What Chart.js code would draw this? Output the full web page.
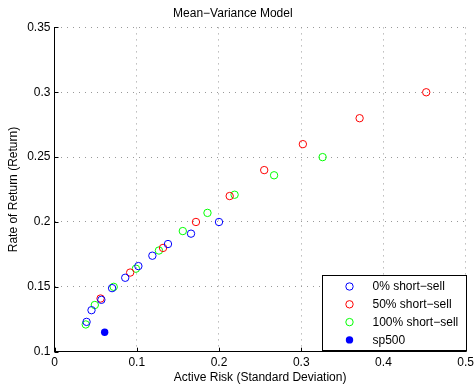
<!DOCTYPE html>
<html>
<head>
<meta charset="utf-8">
<script src="https://cdn.jsdelivr.net/npm/chart.js@4"></script>
<style>
  html, body { margin: 0; padding: 0; background: #fff; }
  #wrap { width: 474px; height: 391px; }
</style>
</head>
<body>
<div id="wrap"><canvas id="chart"></canvas></div>
<script>
// values
const shortSell0 = [
  [0.039, 0.123], [0.045, 0.132], [0.057, 0.140], [0.070, 0.149], [0.086, 0.157],
  [0.102, 0.166], [0.119, 0.174], [0.138, 0.183], [0.166, 0.191], [0.200, 0.200]
];
const shortSell50 = [
  [0.056, 0.141], [0.092, 0.161], [0.132, 0.180], [0.172, 0.200], [0.213, 0.220],
  [0.255, 0.240], [0.302, 0.260], [0.371, 0.280], [0.452, 0.300]
];
const shortSell100 = [
  [0.038, 0.121], [0.049, 0.136], [0.072, 0.150], [0.099, 0.164], [0.127, 0.178],
  [0.156, 0.193], [0.186, 0.207], [0.219, 0.221], [0.267, 0.236], [0.326, 0.250]
];
const sp500 = [[0.061, 0.115]];

const seriesLabels = ['0% short\u2212sell', '50% short\u2212sell', '100% short\u2212sell', 'sp500'];
const xTicks = [0, 0.1, 0.2, 0.3, 0.4, 0.5];
const yTicks = [0.1, 0.15, 0.2, 0.25, 0.3, 0.35];

const FONT = 'Liberation Sans, Arial, Helvetica, sans-serif';

function toPts(arr) {
  return arr.map(p => ({ x: p[0], y: p[1] }));
}

function ring(label, data, color) {
  return {
    label: label,
    data: toPts(data),
    pointStyle: 'circle',
    pointRadius: 3.7,
    pointBorderWidth: 1,
    borderColor: color,
    backgroundColor: 'rgba(0,0,0,0)',
    pointBackgroundColor: 'rgba(0,0,0,0)'
  };
}

// inward tick marks, matlab style
const innerTicks = {
  id: 'innerTicks',
  afterDraw(chart) {
    const { ctx, chartArea, scales } = chart;
    ctx.save();
    ctx.strokeStyle = '#000';
    ctx.lineWidth = 1;
    ctx.beginPath();
    xTicks.forEach(v => {
      const x = Math.round(scales.x.getPixelForValue(v)) + 0.5;
      ctx.moveTo(x, chartArea.bottom);
      ctx.lineTo(x, chartArea.bottom - 4);
    });
    yTicks.forEach(v => {
      const y = Math.round(scales.y.getPixelForValue(v)) + 0.5;
      ctx.moveTo(chartArea.left, y);
      ctx.lineTo(chartArea.left + 4, y);
    });
    ctx.stroke();
    ctx.restore();
  }
};

// legend box in the lower right corner of the plot
const boxLegend = {
  id: 'boxLegend',
  afterDraw(chart) {
    const { ctx, chartArea } = chart;
    const w = 144, h = 75;
    const x0 = Math.round(chartArea.right - w) + 0.5;
    const y0 = Math.round(chartArea.bottom - 2 - h) + 0.5;
    ctx.save();
    ctx.fillStyle = '#fff';
    ctx.fillRect(x0, y0, w, h);
    ctx.strokeStyle = '#000';
    ctx.lineWidth = 1;
    ctx.strokeRect(x0, y0, w, h);
    ctx.font = '12px ' + FONT;
    ctx.textBaseline = 'middle';
    ctx.textAlign = 'left';
    chart.data.datasets.forEach((ds, i) => {
      const cy = y0 + 11 + i * 17.8;
      const mx = x0 + 27;
      ctx.beginPath();
      ctx.arc(mx, cy, 3.7, 0, Math.PI * 2);
      if (ds.pointBackgroundColor !== 'rgba(0,0,0,0)') {
        ctx.fillStyle = ds.pointBackgroundColor;
        ctx.fill();
      } else {
        ctx.strokeStyle = ds.borderColor;
        ctx.stroke();
      }
      ctx.fillStyle = '#000';
      ctx.fillText(ds.label, x0 + 50, cy + 0.5);
    });
    ctx.restore();
  }
};

const gridStyle = { color: '#999', lineWidth: 1, drawTicks: false };

new Chart(document.getElementById('chart'), {
  type: 'scatter',
  data: {
    datasets: [
      ring(seriesLabels[0], shortSell0, '#0000ff'),
      ring(seriesLabels[1], shortSell50, '#ff0000'),
      ring(seriesLabels[2], shortSell100, '#00ff00'),
      {
        label: seriesLabels[3],
        data: toPts(sp500),
        pointStyle: 'circle',
        pointRadius: 3.7,
        pointBorderWidth: 0,
        borderColor: '#0000ff',
        backgroundColor: '#0000ff',
        pointBackgroundColor: '#0000ff'
      }
    ]
  },
  options: {
    responsive: true,
    maintainAspectRatio: false,
    animation: false,
    layout: { padding: { left: 0, right: 8.3, top: 0, bottom: 0 } },
    plugins: {
      legend: { display: false },
      tooltip: { enabled: false },
      title: {
        display: true,
        text: 'Mean\u2212Variance Model',
        color: '#000',
        font: { family: FONT, size: 12, weight: 'normal' },
        padding: { top: 6, bottom: 7 }
      }
    },
    scales: {
      x: {
        type: 'linear',
        min: 0, max: 0.5,
        afterFit: s => { s.height = 39.3; s.paddingLeft = 0; s.paddingRight = 0; },
        afterBuildTicks: s => { s.ticks = xTicks.map(v => ({ value: v })); },
        grid: gridStyle,
        border: { display: true, color: '#000', width: 1, dash: [1, 5] },
        ticks: {
          color: '#000',
          padding: 4,
          maxRotation: 0,
          font: { family: FONT, size: 12 },
          callback: v => String(+v.toFixed(2))
        },
        title: {
          display: true,
          text: 'Active Risk (Standard Deviation)',
          color: '#000',
          font: { family: FONT, size: 12 },
          padding: 6
        }
      },
      y: {
        type: 'linear',
        min: 0.1, max: 0.35,
        afterFit: s => { s.width = 54.5; s.paddingTop = 0; s.paddingBottom = 0; },
        afterBuildTicks: s => { s.ticks = yTicks.map(v => ({ value: v })); },
        grid: gridStyle,
        border: { display: true, color: '#000', width: 1, dash: [1, 5] },
        ticks: {
          color: '#000',
          padding: 4,
          font: { family: FONT, size: 12 },
          callback: v => String(+v.toFixed(2))
        },
        title: {
          display: true,
          text: 'Rate of Return (Return)',
          color: '#000',
          font: { family: FONT, size: 12 },
          padding: 6
        }
      }
    }
  },
  plugins: [innerTicks, boxLegend]
});
</script>
</body>
</html>
